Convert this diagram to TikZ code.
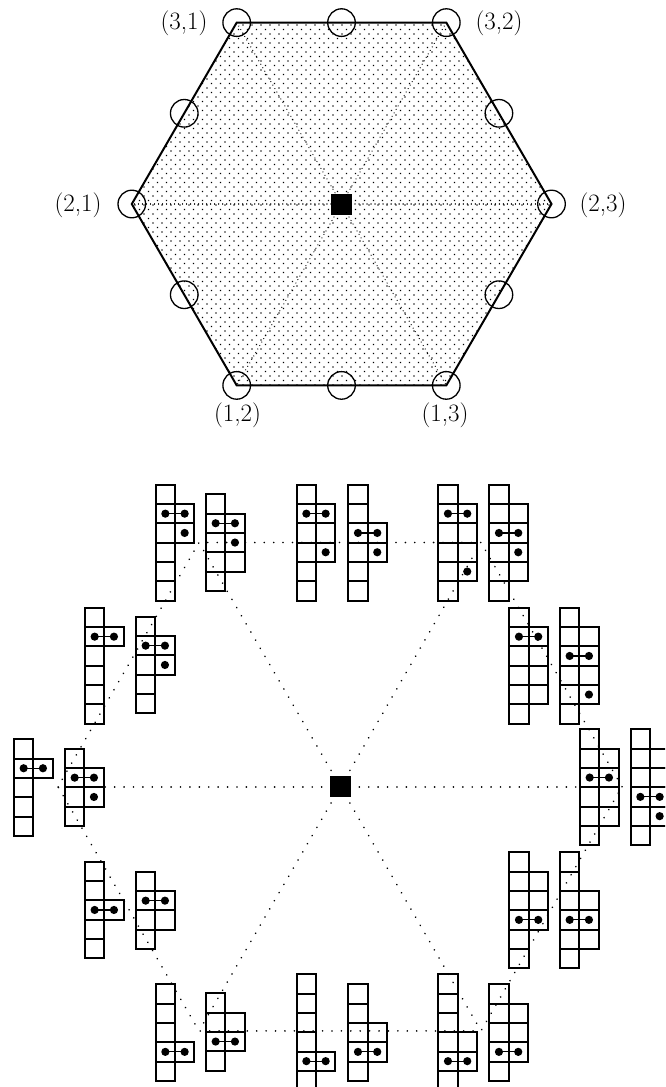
\documentclass[tikz,border=0pt]{standalone}
\usetikzlibrary{patterns.meta,calc}
\tikzset{
  cellbox/.style={draw, line width=2pt},
  hexline/.style={line width=2pt, line join=miter},
  spokeup/.style={line width=1.3pt, dash pattern=on 0.01pt off 4pt, line cap=round},
  spokelow/.style={line width=1.8pt, dash pattern=on 0.01pt off 9.4pt, line cap=round},
  ring/.style={circle, draw, line width=1.3pt, minimum size=27.6pt, inner sep=0pt},
  blacksq/.style={fill=black, minimum size=21pt, inner sep=0pt},
  lab/.style={font=\fontsize{25}{30}\selectfont, inner sep=0pt},
  tdot/.style={fill=black},
}
\newcommand\cz{19.3}
% \yt{x}{y}{rows col1}{col2 first}{col2 last}{pair row}{single row or 0}
\newcommand\yt[7]{%
  \begin{scope}[shift={(#1,#2)}]
    \foreach \i in {1,...,#3}{\draw[cellbox] (0,{(\i-1)*\cz}) rectangle (\cz,{\i*\cz});}
    \foreach \i in {#4,...,#5}{\draw[cellbox] (\cz,{(\i-1)*\cz}) rectangle ({2*\cz},{\i*\cz});}
    \draw[line width=1.2pt] ({0.5*\cz},{(#6-0.5)*\cz}) -- ({1.5*\cz},{(#6-0.5)*\cz});
    \fill[tdot] ({0.5*\cz},{(#6-0.5)*\cz}) circle (4.1pt);
    \fill[tdot] ({1.5*\cz},{(#6-0.5)*\cz}) circle (4.1pt);
    \ifnum#7>0 \fill[tdot] ({1.5*\cz},{(#7-0.5)*\cz}) circle (4.1pt);\fi
  \end{scope}}
\begin{document}
\begin{tikzpicture}[x=1pt,y=-1pt]
\useasboundingbox (0,0) rectangle (665,1087);
\clip (0,0) rectangle (665,1087);
% ---------- upper hexagon ----------
\coordinate (U0) at (551.5,204);
\coordinate (U1) at (446.3,22.6);
\coordinate (U2) at (236.7,22.6);
\coordinate (U3) at (131.8,204);
\coordinate (U4) at (236.7,385.4);
\coordinate (U5) at (446.3,385.4);
\fill[pattern={Dots[distance=6.364pt,angle=45,radius=1pt]}] (U0)--(U1)--(U2)--(U3)--(U4)--(U5)--cycle;
\node[blacksq] (C1) at (341.5,204) {};
\draw[spokeup] (U0) -- (C1.center) -- (U3);
\draw[spokeup] (U1) -- (C1.center) -- (U4);
\draw[spokeup] (U2) -- (C1.center) -- (U5);
\node[blacksq] at (C1) {};
\draw[hexline] (U0)--(U1)--(U2)--(U3)--(U4)--(U5)--cycle;
\foreach \k in {0,...,5}{\node[ring] (R\k) at (U\k) {};}
\node[ring] (M01) at ($(U0)!0.5!(U1)$) {};
\node[ring] (M12) at ($(U1)!0.5!(U2)$) {};
\node[ring] (M23) at ($(U2)!0.5!(U3)$) {};
\node[ring] (M34) at ($(U3)!0.5!(U4)$) {};
\node[ring] (M45) at ($(U4)!0.5!(U5)$) {};
\node[ring] (M50) at ($(U5)!0.5!(U0)$) {};
\node[lab] (L31) at (184,23) {(3,1)};
\node[lab] (L32) at (499,23) {(3,2)};
\node[lab] (L21) at (78,205) {(2,1)};
\node[lab] (L23) at (603,205) {(2,3)};
\node[lab] (L12) at (237.5,415) {(1,2)};
\node[lab] (L13) at (445,415) {(1,3)};
% ---------- lower hexagon ----------
\coordinate (W0) at (622,786.7);
\coordinate (W1) at (481,542.5);
\coordinate (W2) at (199,542.5);
\coordinate (W3) at (58,786.7);
\coordinate (W4) at (199,1030.9);
\coordinate (W5) at (481,1030.9);
\node[blacksq] (C2) at (340.5,786.7) {};
\draw[spokelow] (W0)--(W1)--(W2)--(W3)--(W4)--(W5)--cycle;
\draw[spokelow] (C2.center) -- (W0);
\draw[spokelow] (C2.center) -- (W1);
\draw[spokelow] (C2.center) -- (W2);
\draw[spokelow] (C2.center) -- (W3);
\draw[spokelow] (C2.center) -- (W4);
\draw[spokelow] (C2.center) -- (W5);
\node[blacksq] at (C2) {};
% tableaux
\yt{155.7}{484.7}{6}{2}{3}{2}{3}
\yt{206}{494.3}{5}{2}{4}{2}{3}
\yt{296.7}{484.7}{6}{2}{4}{2}{4}
\yt{348.3}{484.7}{6}{3}{4}{3}{4}
\yt{438.3}{484.7}{6}{2}{5}{2}{5}
\yt{489.3}{484.7}{6}{2}{5}{3}{4}
\yt{509.3}{607.7}{6}{2}{5}{2}{0}
\yt{560}{607.7}{6}{2}{5}{3}{5}
\yt{580}{729.3}{6}{2}{5}{3}{0}
\yt{630.7}{729.3}{6}{2}{5}{4}{5}
\yt{509.3}{852.3}{6}{2}{4}{4}{0}
\yt{560}{852.3}{6}{3}{5}{4}{0}
\yt{438.3}{974.3}{6}{4}{5}{5}{0}
\yt{489.3}{984.3}{5}{2}{4}{4}{0}
\yt{296.7}{974.3}{6}{5}{5}{5}{0}
\yt{348.3}{984.3}{5}{3}{4}{4}{0}
\yt{155.7}{984.3}{5}{4}{4}{4}{0}
\yt{206}{993.3}{4}{2}{3}{3}{0}
\yt{85}{861.7}{5}{3}{3}{3}{0}
\yt{136}{871.7}{4}{2}{3}{2}{0}
\yt{14}{739.3}{5}{2}{2}{2}{0}
\yt{65}{748.7}{4}{2}{3}{2}{3}
\yt{85}{607.7}{6}{2}{2}{2}{0}
\yt{136}{616.7}{5}{2}{3}{2}{3}
\end{tikzpicture}
\end{document}
